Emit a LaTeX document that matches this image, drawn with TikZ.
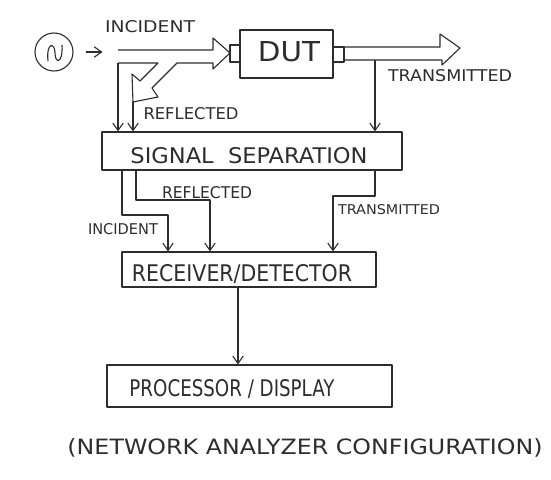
\documentclass[tikz,border=0pt]{standalone}
\usepackage{fontspec}
\newfontfamily\hand{DejaVu Sans}
\usetikzlibrary{arrows.meta}
\definecolor{pencil}{RGB}{45,45,45}
\newcommand{\hw}[3]{\resizebox{#1pt}{#2pt}{\hand #3}}
\tikzset{
  ln/.style={draw=pencil, line width=1.1pt, line join=round},
  box/.style={ln, inner sep=0pt, minimum width=#1},
  arr/.style={ln, -{Straight Barb[angle=70:9pt]}},
  txt/.style={inner sep=0pt, text=pencil},
}
\begin{document}
\begin{tikzpicture}[x=1pt,y=-1pt]
\useasboundingbox[fill=white] (0,0) rectangle (551,479);

% source
\node[ln, circle, minimum size=38pt, inner sep=0pt] (src) at (54,52) {};
\draw[ln] (48,61) .. controls (46,42) and (55,42) .. (55,53) .. controls (55,64) and (63,64) .. (62,45);
\draw[arr] ([xshift=12pt]src.east) coordinate (sa) -- ++(17,0) coordinate (sb);

% DUT and stubs
\node[box=93pt, minimum height=48pt] (dut) at (286.5,54) {};
\node[txt] (dutt) at (289,52) {\hw{62}{20}{DUT}};
\node[box=10pt, minimum height=17pt] (ls) at (235,53.5) {};
\node[box=11pt, minimum height=15pt] (rs) at (338.5,54.5) {};

% incident / reflected hollow arrow
\draw[ln] (118,50) -- (213,50) -- (213,38) -- (230,53) -- (213,69) -- (213,63)
  -- (177,63) -- (152,88) -- (158,97) -- (133,102) -- (132,74) -- (140,81)
  -- (158,63) -- (118,63);
\coordinate (inc) at (118,63);
\coordinate (rt) at (133,102);

% transmitted hollow arrow
\draw[ln] (344,47) -- (440,47) -- (440,34) -- (460,48) -- (442,65) -- (442,60) -- (344,60);
\coordinate (tr) at (375,60);

% labels top
\node[txt] (l1) at (150,27) {\hw{90}{12}{INCIDENT}};
\node[txt] (l2) at (191,114) {\hw{95}{12}{REFLECTED}};
\node[txt] (l3) at (450,76) {\hw{124}{12}{TRANSMITTED}};

% signal separation
\node[box=300pt, minimum height=38pt] (ss) at (252,151) {};
\node[txt] (sst) at (249,156) {\hw{237}{16}{SIGNAL\ \ SEPARATION}};

\draw[arr] (inc) -- (inc |- ss.north);
\draw[arr] (rt) -- (rt |- ss.north);
\draw[arr] (tr) -- (tr |- ss.north);

% receiver
\node[box=254pt, minimum height=35pt] (rx) at (249,269.5) {};
\node[txt] (rxt) at (242,274) {\hw{220}{17}{RECEIVER/DETECTOR}};

\draw[arr] (122,0 |- ss.south) |- (168,215) -- (168,0 |- rx.north);
\draw[arr] (136,0 |- ss.south) |- (210,200) -- (210,0 |- rx.north);
\draw[arr] (375,0 |- ss.south) |- (333,196) -- (333,0 |- rx.north);

\node[txt] (m1) at (123,229) {\hw{70}{11}{INCIDENT}};
\node[txt] (m2) at (207,193) {\hw{90}{12}{REFLECTED}};
\node[txt] (m3) at (389,210) {\hw{102}{10}{TRANSMITTED}};

% processor
\node[box=285pt, minimum height=42pt] (pd) at (249.5,386) {};
\node[txt] (pdt) at (232,389) {\hw{205}{17}{PROCESSOR / DISPLAY}};
\draw[arr] (238,0 |- rx.south) -- (238,0 |- pd.north);

% caption
\node[txt] (cap) at (305,448) {\hw{475}{16}{(NETWORK ANALYZER CONFIGURATION)}};
\end{tikzpicture}
\end{document}
